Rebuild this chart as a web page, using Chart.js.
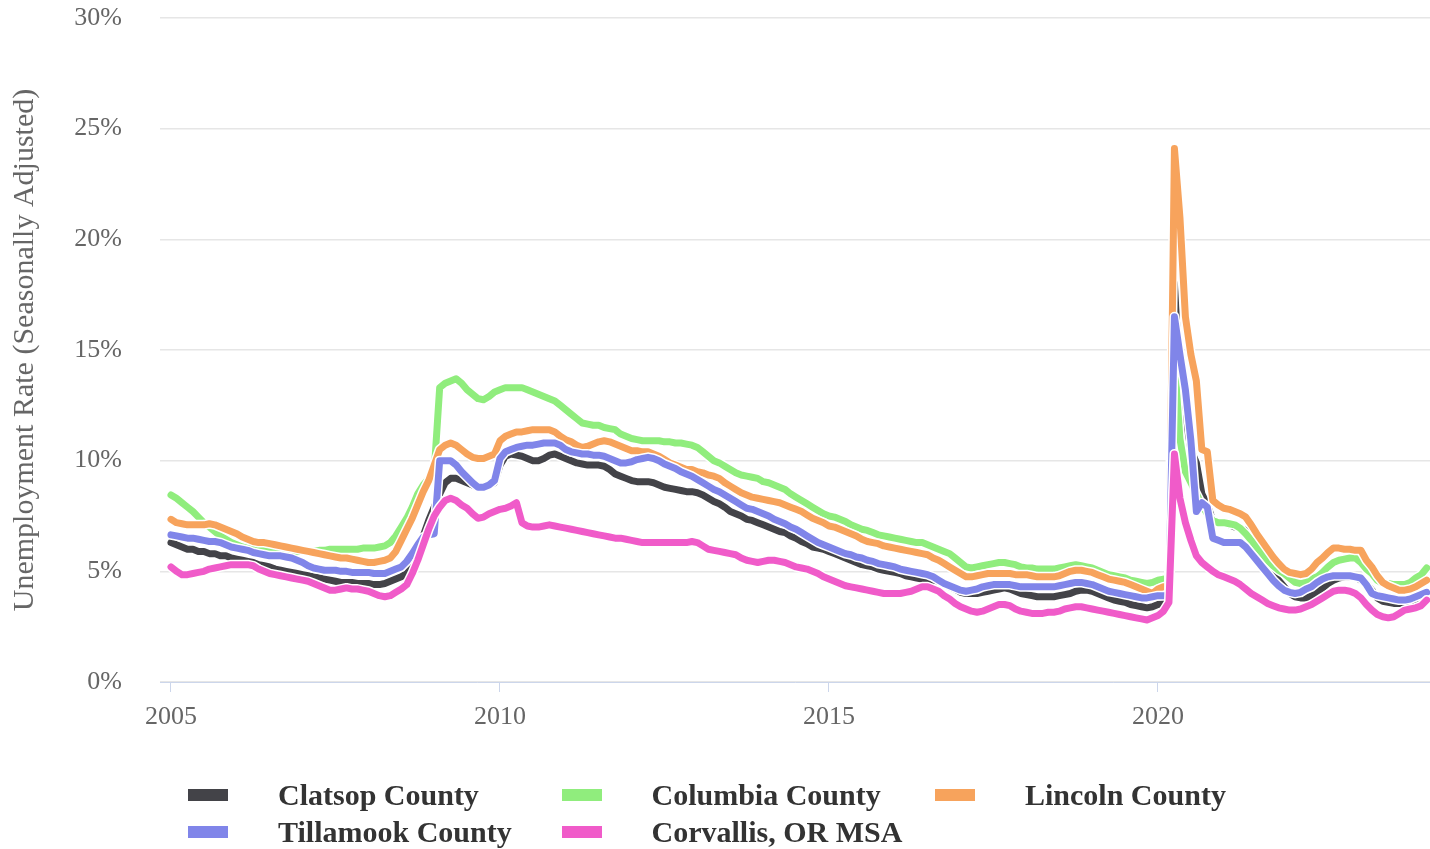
<!DOCTYPE html>
<html>
<head>
<meta charset="utf-8">
<script src="https://cdn.jsdelivr.net/npm/chart.js@4/dist/chart.umd.min.js"></script>
<style>
  html, body { margin: 0; padding: 0; background: #fff; }
  #wrap { position: relative; width: 1430px; height: 849px; }
  #c { position: absolute; left: 0; top: 0; }
  #legend { position: absolute; left: 188px; top: 776px; display: grid;
    grid-template-columns: 373.5px 373.5px 373.5px; grid-auto-rows: 37px;
    font-family: "Liberation Serif", "Times New Roman", serif; font-weight: bold;
    font-size: 30px; color: #333; }
  .item { display: flex; align-items: center; white-space: nowrap; }
  .sw { width: 40px; height: 12px; margin-right: 50px; flex: none; }
</style>
</head>
<body>
<div id="wrap">
  <canvas id="c" width="1430" height="849"></canvas>
  <div id="legend"></div>
</div>
<script>
// Monthly data, January 2005 through February 2024
const startYear = 2005;
const seriesNames = ["Clatsop County", "Columbia County", "Lincoln County", "Tillamook County", "Corvallis, OR MSA"];
const seriesColors = ["#434348", "#90ed7d", "#f7a35c", "#8085e9", "#f05bc9"];
const xTickYears = [2005, 2010, 2015, 2020];
const yTickValues = [0, 5, 10, 15, 20, 25, 30];

const clatsop = [
  6.3, 6.2, 6.1, 6.0, 6.0, 5.9, 5.9, 5.8, 5.8, 5.7, 5.7, 5.6,
  5.55, 5.5, 5.45, 5.4, 5.3, 5.25, 5.2, 5.1, 5.05, 5.0, 4.95, 4.9,
  4.85, 4.8, 4.75, 4.7, 4.65, 4.6, 4.55, 4.5, 4.5, 4.5, 4.45, 4.45,
  4.45, 4.4, 4.4, 4.45, 4.55, 4.65, 4.75, 4.9, 5.3, 5.9, 6.6, 7.3,
  7.9, 8.5, 9.0, 9.2, 9.2, 9.1, 9.0, 8.9, 8.8, 8.8, 8.9, 9.0,
  9.8, 10.2, 10.3, 10.25, 10.2, 10.1, 10.0, 10.0, 10.1, 10.25, 10.3, 10.2,
  10.1, 10.0, 9.9, 9.85, 9.8, 9.8, 9.8, 9.75, 9.6, 9.4, 9.3, 9.2,
  9.1, 9.05, 9.05, 9.05, 9.0, 8.9, 8.8, 8.75, 8.7, 8.65, 8.6, 8.6,
  8.55, 8.45, 8.3, 8.15, 8.05, 7.9, 7.7, 7.6, 7.5, 7.35, 7.3, 7.2,
  7.1, 7.0, 6.9, 6.8, 6.75, 6.6, 6.5, 6.35, 6.25, 6.1, 6.05, 6.0,
  5.9, 5.8, 5.7, 5.6, 5.5, 5.4, 5.3, 5.25, 5.2, 5.1, 5.05, 5.0,
  4.95, 4.9, 4.8, 4.75, 4.7, 4.65, 4.6, 4.6, 4.55, 4.45, 4.3, 4.2,
  4.05, 4.0, 4.0, 4.0, 4.05, 4.1, 4.15, 4.2, 4.25, 4.2, 4.1, 4.0,
  3.95, 3.9, 3.85, 3.85, 3.85, 3.85, 3.9, 3.95, 4.0, 4.1, 4.15, 4.15,
  4.1, 4.0, 3.9, 3.8, 3.7, 3.65, 3.6, 3.5, 3.45, 3.4, 3.35, 3.4,
  3.5, 3.55, 3.6, 18.0, 13.5, 12.0, 10.5, 9.9, 8.5, 8.0, 7.3, 7.2,
  7.2, 7.1, 7.0, 6.95, 6.85, 6.6, 6.3, 5.8, 5.4, 4.95, 4.6, 4.3,
  4.0, 3.85, 3.8, 3.8, 3.9, 4.05, 4.25, 4.45, 4.6, 4.7, 4.75, 4.75,
  4.75, 4.6, 4.45, 4.15, 3.8, 3.65, 3.6, 3.55, 3.55, 3.55, 3.55, 3.6,
  3.8, 4.0
];
const columbia = [
  8.45, 8.3, 8.1, 7.9, 7.7, 7.45, 7.2, 7.0, 6.8, 6.6, 6.45, 6.3,
  6.2, 6.1, 6.05, 6.0, 5.95, 5.95, 5.9, 5.9, 5.9, 5.9, 5.9, 5.9,
  5.9, 5.9, 5.9, 5.95, 5.95, 6.0, 6.0, 6.0, 6.0, 6.0, 6.0, 6.05,
  6.05, 6.05, 6.1, 6.15, 6.3, 6.6, 7.0, 7.4, 7.9, 8.5, 8.9, 9.2,
  9.5, 13.3, 13.5, 13.6, 13.7, 13.5, 13.2, 13.0, 12.8, 12.75, 12.9, 13.1,
  13.2, 13.3, 13.3, 13.3, 13.3, 13.2, 13.1, 13.0, 12.9, 12.8, 12.7, 12.5,
  12.3, 12.1, 11.9, 11.7, 11.65, 11.6, 11.6, 11.5, 11.45, 11.4, 11.2, 11.1,
  11.0, 10.95, 10.9, 10.9, 10.9, 10.9, 10.85, 10.85, 10.8, 10.8, 10.75, 10.7,
  10.6, 10.4, 10.2, 10.0, 9.9, 9.75, 9.6, 9.45, 9.35, 9.3, 9.25, 9.2,
  9.05, 9.0, 8.9, 8.8, 8.7, 8.5, 8.35, 8.2, 8.05, 7.9, 7.75, 7.6,
  7.5, 7.45, 7.35, 7.25, 7.1, 7.0, 6.9, 6.85, 6.75, 6.65, 6.6, 6.55,
  6.5, 6.45, 6.4, 6.35, 6.3, 6.3, 6.2, 6.1, 6.0, 5.9, 5.8, 5.6,
  5.4, 5.2, 5.15, 5.2, 5.25, 5.3, 5.35, 5.4, 5.4, 5.35, 5.3, 5.2,
  5.15, 5.15, 5.1, 5.1, 5.1, 5.1, 5.15, 5.2, 5.25, 5.3, 5.25, 5.2,
  5.15, 5.05, 4.95, 4.85, 4.8, 4.75, 4.7, 4.6, 4.55, 4.5, 4.45, 4.5,
  4.6, 4.65, 4.7, 14.5, 11.0, 9.5, 9.0, 8.5, 8.0, 7.6, 7.3, 7.2,
  7.2, 7.15, 7.1, 6.95, 6.7, 6.4, 6.1, 5.8, 5.5, 5.25, 5.05, 4.9,
  4.7, 4.5, 4.45, 4.5, 4.65, 4.75, 4.95, 5.2, 5.4, 5.5, 5.55, 5.6,
  5.6, 5.4, 5.1, 4.9, 4.6, 4.45, 4.45, 4.4, 4.4, 4.4, 4.5, 4.7,
  4.85, 5.15
];
const lincoln = [
  7.35, 7.2, 7.15, 7.1, 7.1, 7.1, 7.1, 7.15, 7.1, 7.0, 6.9, 6.8,
  6.7, 6.55, 6.45, 6.35, 6.3, 6.3, 6.25, 6.2, 6.15, 6.1, 6.05, 6.0,
  5.95, 5.9, 5.85, 5.8, 5.75, 5.7, 5.65, 5.6, 5.6, 5.55, 5.5, 5.45,
  5.4, 5.4, 5.45, 5.5, 5.6, 5.9, 6.4, 6.9, 7.4, 8.0, 8.6, 9.1,
  9.8, 10.5, 10.7, 10.8, 10.7, 10.5, 10.3, 10.15, 10.1, 10.1, 10.2, 10.3,
  10.9, 11.1, 11.2, 11.3, 11.3, 11.35, 11.4, 11.4, 11.4, 11.4, 11.3, 11.1,
  10.95, 10.85, 10.7, 10.6, 10.65, 10.75, 10.85, 10.9, 10.85, 10.75, 10.65, 10.55,
  10.45, 10.45, 10.4, 10.4, 10.3, 10.2, 10.05, 9.9, 9.8, 9.7, 9.6, 9.6,
  9.5, 9.45, 9.35, 9.3, 9.2, 9.0, 8.85, 8.7, 8.55, 8.45, 8.35, 8.3,
  8.25, 8.2, 8.15, 8.1, 8.0, 7.9, 7.8, 7.7, 7.55, 7.4, 7.3, 7.2,
  7.05, 7.0, 6.9, 6.8, 6.7, 6.6, 6.45, 6.35, 6.3, 6.25, 6.15, 6.1,
  6.05, 6.0, 5.95, 5.9, 5.85, 5.8, 5.75, 5.6, 5.5, 5.35, 5.2, 5.05,
  4.9, 4.75, 4.75, 4.8, 4.85, 4.9, 4.9, 4.9, 4.9, 4.9, 4.85, 4.85,
  4.85, 4.8, 4.75, 4.75, 4.75, 4.75, 4.8, 4.9, 5.0, 5.05, 5.05, 5.0,
  4.95, 4.85, 4.75, 4.65, 4.6, 4.55, 4.5, 4.4, 4.3, 4.2, 4.1, 4.0,
  4.2, 4.3, 4.3, 24.1, 21.0, 16.5, 14.8, 13.6, 10.5, 10.4, 8.2, 8.0,
  7.85, 7.8, 7.7, 7.6, 7.45, 7.1, 6.7, 6.35, 6.0, 5.65, 5.35, 5.1,
  4.95, 4.9, 4.85, 4.9, 5.1, 5.4, 5.6, 5.85, 6.05, 6.05, 6.0, 6.0,
  5.95, 5.95, 5.5, 5.2, 4.8, 4.5, 4.35, 4.25, 4.15, 4.15, 4.2, 4.3,
  4.45, 4.6
];
const tillamook = [
  6.65, 6.6, 6.55, 6.5, 6.5, 6.45, 6.4, 6.35, 6.35, 6.3, 6.2, 6.1,
  6.05, 6.0, 5.95, 5.85, 5.8, 5.75, 5.7, 5.7, 5.7, 5.65, 5.6, 5.5,
  5.4, 5.25, 5.15, 5.1, 5.05, 5.05, 5.05, 5.0, 5.0, 4.95, 4.95, 4.95,
  4.95, 4.9, 4.9, 4.9, 5.0, 5.1, 5.2, 5.45, 5.8, 6.2, 6.55, 6.65,
  6.7, 10.0, 10.0, 10.0, 9.8, 9.5, 9.25, 9.0, 8.8, 8.8, 8.9, 9.1,
  10.1, 10.4, 10.5, 10.6, 10.65, 10.7, 10.7, 10.75, 10.8, 10.8, 10.8, 10.7,
  10.5, 10.4, 10.35, 10.3, 10.3, 10.25, 10.25, 10.2, 10.1, 10.0, 9.9, 9.9,
  9.95, 10.05, 10.1, 10.15, 10.1, 10.0, 9.85, 9.75, 9.65, 9.5, 9.4, 9.3,
  9.15, 9.0, 8.85, 8.7, 8.6, 8.45, 8.3, 8.15, 8.0, 7.85, 7.8, 7.7,
  7.6, 7.5, 7.35, 7.25, 7.15, 7.0, 6.9, 6.75, 6.6, 6.45, 6.3, 6.2,
  6.1, 6.0, 5.9, 5.8, 5.75, 5.65, 5.6, 5.5, 5.45, 5.35, 5.3, 5.25,
  5.2, 5.1, 5.05, 5.0, 4.95, 4.9, 4.85, 4.75, 4.6, 4.45, 4.35, 4.25,
  4.15, 4.1, 4.15, 4.2, 4.3, 4.35, 4.4, 4.4, 4.4, 4.4, 4.35, 4.3,
  4.3, 4.3, 4.3, 4.3, 4.3, 4.3, 4.35, 4.4, 4.45, 4.5, 4.5, 4.45,
  4.4, 4.3, 4.2, 4.1, 4.05, 4.0, 3.95, 3.9, 3.85, 3.8, 3.8, 3.85,
  3.9, 3.9, 3.9, 16.5, 14.8, 13.2, 10.9, 7.7, 8.1, 7.9, 6.5, 6.4,
  6.3, 6.3, 6.3, 6.3, 6.1, 5.8, 5.5, 5.2, 4.9, 4.6, 4.35, 4.15,
  4.05, 4.0, 4.05, 4.2, 4.3, 4.5, 4.65, 4.75, 4.8, 4.8, 4.8, 4.8,
  4.75, 4.7, 4.4, 4.0, 3.9, 3.85, 3.8, 3.75, 3.7, 3.7, 3.75, 3.85,
  3.95, 4.05
];
const corvallis = [
  5.2, 5.0, 4.85, 4.85, 4.9, 4.95, 5.0, 5.1, 5.15, 5.2, 5.25, 5.3,
  5.3, 5.3, 5.3, 5.25, 5.1, 5.0, 4.9, 4.85, 4.8, 4.75, 4.7, 4.65,
  4.6, 4.55, 4.45, 4.35, 4.25, 4.15, 4.15, 4.2, 4.25, 4.2, 4.2, 4.15,
  4.1, 4.0, 3.9, 3.85, 3.9, 4.05, 4.2, 4.4, 4.9, 5.5, 6.2, 6.9,
  7.5, 7.9, 8.2, 8.3, 8.2, 8.0, 7.85, 7.6, 7.4, 7.45, 7.6, 7.7,
  7.8, 7.85, 7.95, 8.1, 7.2, 7.05, 7.0, 7.0, 7.05, 7.1, 7.05, 7.0,
  6.95, 6.9, 6.85, 6.8, 6.75, 6.7, 6.65, 6.6, 6.55, 6.5, 6.5, 6.45,
  6.4, 6.35, 6.3, 6.3, 6.3, 6.3, 6.3, 6.3, 6.3, 6.3, 6.3, 6.35,
  6.3, 6.15, 6.0, 5.95, 5.9, 5.85, 5.8, 5.75, 5.6, 5.5, 5.45, 5.4,
  5.45, 5.5, 5.5, 5.45, 5.4, 5.3, 5.2, 5.15, 5.1, 5.0, 4.9, 4.75,
  4.65, 4.55, 4.45, 4.35, 4.3, 4.25, 4.2, 4.15, 4.1, 4.05, 4.0, 4.0,
  4.0, 4.0, 4.05, 4.1, 4.2, 4.3, 4.3, 4.2, 4.1, 3.9, 3.75, 3.55,
  3.4, 3.3, 3.2, 3.15, 3.2, 3.3, 3.4, 3.5, 3.5, 3.45, 3.3, 3.2,
  3.15, 3.1, 3.1, 3.1, 3.15, 3.15, 3.2, 3.3, 3.35, 3.4, 3.4, 3.35,
  3.3, 3.25, 3.2, 3.15, 3.1, 3.05, 3.0, 2.95, 2.9, 2.85, 2.8, 2.9,
  3.0, 3.2, 3.6, 10.3, 8.3, 7.2, 6.4, 5.7, 5.4, 5.2, 5.0, 4.85,
  4.75, 4.65, 4.55, 4.4, 4.2, 4.0, 3.85, 3.7, 3.55, 3.45, 3.35, 3.3,
  3.25, 3.25, 3.3, 3.4, 3.5, 3.65, 3.8, 3.95, 4.1, 4.15, 4.15, 4.1,
  4.0, 3.8, 3.5, 3.25, 3.05, 2.95, 2.9, 2.95, 3.1, 3.25, 3.3, 3.35,
  3.45, 3.7
];
const seriesValues = [clatsop, columbia, lincoln, tillamook, corvallis];

const serif = '"Liberation Serif", "Times New Roman", serif';

// white halo under each line
const halo = {
  id: 'halo',
  beforeDatasetDraw(chart, args) {
    const pts = args.meta.data;
    const ctx = chart.ctx, a = chart.chartArea;
    ctx.save();
    ctx.beginPath();
    ctx.rect(a.left, a.top, a.right - a.left, a.bottom - a.top);
    ctx.clip();
    ctx.beginPath();
    pts.forEach((p, i) => i ? ctx.lineTo(p.x, p.y) : ctx.moveTo(p.x, p.y));
    ctx.strokeStyle = '#ffffff';
    ctx.lineWidth = 10;
    ctx.lineJoin = 'round';
    ctx.lineCap = 'round';
    ctx.stroke();
    ctx.restore();
  }
};

const datasets = seriesNames.map((name, k) => ({
  label: name,
  data: seriesValues[k].map((v, i) => ({ x: startYear + i / 12, y: v })),
  borderColor: seriesColors[k],
  backgroundColor: seriesColors[k],
  borderWidth: 7,
  pointRadius: 0,
  tension: 0,
  borderJoinStyle: 'round',
  borderCapStyle: 'round',
  fill: false,
  order: seriesNames.length - k
}));

new Chart(document.getElementById('c'), {
  type: 'line',
  data: { datasets },
  plugins: [halo],
  options: {
    responsive: false,
    animation: false,
    events: [],
    layout: { padding: { top: 18, right: 0, left: 0, bottom: 0 } },
    plugins: { legend: { display: false }, tooltip: { enabled: false } },
    scales: {
      x: {
        type: 'linear',
        min: 2004.833,
        max: 2024.134,
        afterBuildTicks: (s) => { s.ticks = xTickYears.map(v => ({ value: v })); },
        afterFit: (s) => { s.height = 849 - 682; },
        grid: { drawOnChartArea: false, drawTicks: true, tickLength: 10, color: '#ccd6eb' },
        border: { display: true, color: '#ccd6eb', width: 1 },
        ticks: {
          font: { family: serif, size: 26 },
          color: '#666666',
          padding: 10,
          maxRotation: 0,
          callback: (v) => String(v)
        }
      },
      y: {
        min: 0,
        max: 30,
        afterBuildTicks: (s) => { s.ticks = yTickValues.map(v => ({ value: v })); },
        afterFit: (s) => { s.width = 160; },
        grid: { color: '#e6e6e6', drawTicks: true, tickLength: 38, tickColor: 'rgba(0,0,0,0)', lineWidth: 1.5 },
        border: { display: false },
        ticks: {
          font: { family: serif, size: 26 },
          color: '#666666',
          padding: 0,
          callback: (v) => v + '%'
        },
        title: {
          display: true,
          text: 'Unemployment Rate (Seasonally Adjusted)',
          font: { family: serif, size: 30 },
          color: '#666666',
          padding: { top: 7, bottom: 0 }
        }
      }
    }
  }
});

const lg = document.getElementById('legend');
const orderInLegend = [0, 1, 2, 3, 4];
orderInLegend.forEach(k => {
  const d = document.createElement('div');
  d.className = 'item';
  const sw = document.createElement('span');
  sw.className = 'sw';
  sw.style.background = seriesColors[k];
  const t = document.createElement('span');
  t.textContent = seriesNames[k];
  d.appendChild(sw); d.appendChild(t);
  lg.appendChild(d);
});
</script>
</body>
</html>
